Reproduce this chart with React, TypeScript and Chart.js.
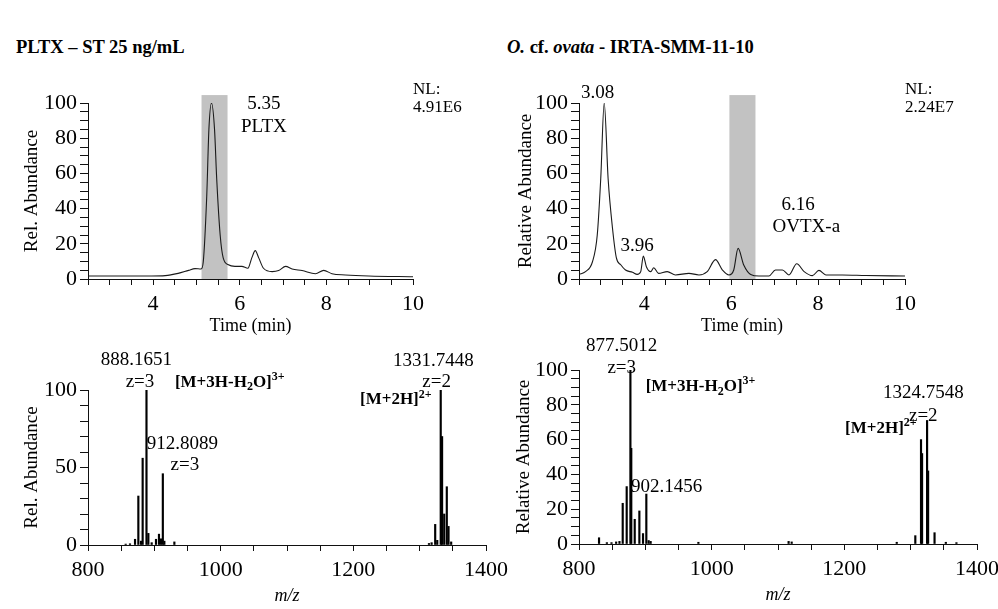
import React, { useEffect, useRef } from 'react';
import { Chart, registerables } from 'chart.js';
Chart.register(...registerables);

const SERIF = '"Liberation Serif", "Times New Roman", serif';

// ---- Top-left chromatogram: PLTX standard 25 ng/mL ----
const pltxTime = [2.5, 3.2, 3.97, 4.28, 4.58, 4.82, 4.97, 5.11, 5.16, 5.24, 5.29, 5.35, 5.42, 5.47, 5.55, 5.62, 5.74, 5.89, 6.05, 6.19, 6.28, 6.36, 6.44, 6.55, 6.75, 6.9, 7.06, 7.21, 7.44, 7.75, 7.94, 8.13, 8.44, 8.98, 10];
const pltxAbund = [1.7, 1.7, 1.7, 1.9, 3.2, 4.9, 5.9, 5.7, 9.8, 47, 85, 100, 85, 57, 25, 12, 8.1, 7.2, 7.2, 6.1, 12, 16.1, 12, 6.1, 4.2, 4.8, 7.2, 5.7, 4.8, 3.0, 4.9, 3.0, 2.3, 1.7, 1.3];
const pltxWindow = [5.12, 5.72];

// ---- Top-right chromatogram: O. cf. ovata IRTA-SMM-11-10 ----
const ovtxTime = [2.5, 2.65, 2.81, 2.92, 3.0, 3.08, 3.17, 3.27, 3.36, 3.46, 3.57, 3.73, 3.84, 3.92, 3.98, 4.05, 4.15, 4.22, 4.33, 4.53, 4.72, 5.03, 5.26, 5.45, 5.64, 5.8, 5.95, 6.06, 6.16, 6.29, 6.45, 6.64, 6.87, 7.02, 7.18, 7.33, 7.51, 7.68, 7.87, 8.02, 8.18, 8.56, 9.1, 10];
const ovtxAbund = [2.6, 4.2, 9.8, 25, 57, 100, 57, 29, 12, 8.1, 5.1, 3.8, 2.6, 4.2, 13, 7, 4.2, 6.4, 3.2, 4.2, 2.3, 3.2, 2.3, 4.2, 11, 5.1, 2.3, 5.1, 17.4, 8, 2.6, 1.7, 1.7, 5.1, 5.1, 2.3, 8.7, 4.2, 1.9, 4.9, 2.3, 2.3, 2.0, 1.7];
const ovtxWindow = [5.96, 6.56];
const windowTop = 104.5;

// ---- Bottom-left spectrum: PLTX ----
const pltxMz = [856.8, 863.3, 870.9, 875.9, 879.9, 882.4, 888.17, 891.0, 896.0, 902.5, 907.0, 910.0, 912.81, 915.1, 930.2, 1314, 1318, 1323.4, 1326.5, 1331.74, 1333.8, 1337, 1340.9, 1343.5, 1347.5];
const pltxInt = [0.6, 0.8, 3.7, 31.6, 2.5, 56, 100, 7.5, 1.5, 3.7, 7, 4, 46, 2.5, 2, 1, 1.5, 13.3, 3, 100, 70, 20, 37.6, 12, 2];

// ---- Bottom-right spectrum: OVTX-a ----
const ovtxMz = [830.2, 842, 849, 856, 861, 865.9, 871.9, 877.5, 878.8, 884, 891, 896.5, 901.5, 905, 908, 980, 1116, 1120.6, 1279, 1307, 1315.6, 1317.2, 1324.75, 1326.3, 1336, 1353, 1369];
const ovtxInt = [3.6, 0.8, 0.8, 1.2, 1.5, 23.4, 33, 100, 55, 14.2, 19, 6, 28.7, 2, 1.5, 1, 1.5, 1.2, 1, 4.8, 60, 52, 71, 42, 6.5, 1, 0.8];

// ---- Tick labels ----
const timeTickLabels = [4, 6, 8, 10];
const mzTickLabels = [800, 1000, 1200, 1400];
const abund20Labels = [0, 20, 40, 60, 80, 100];
const abund50Labels = [0, 50, 100];

type Seg = { t: string; s?: 'sub' | 'sup' };
type Note = { x: number; y: number; segs: Seg[]; align: 'left' | 'center' | 'right'; bold?: boolean; size?: number };
const T = (s: string): Seg[] => [{ t: s }];
const ionH2O: Seg[] = [{ t: '[M+3H-H' }, { t: '2', s: 'sub' }, { t: 'O]' }, { t: '3+', s: 'sup' }];
const ion2H: Seg[] = [{ t: '[M+2H]' }, { t: '2+', s: 'sup' }];

const pltxChromNotes: Note[] = [
  { x: 6.56, y: 99.4, segs: T('5.35'), align: 'center' },
  { x: 6.56, y: 86.4, segs: T('PLTX'), align: 'center' },
  { x: 10, y: 107.4, segs: T('NL:'), align: 'left', size: 17 },
  { x: 10, y: 97.2, segs: T('4.91E6'), align: 'left', size: 17 },
];
const ovtxChromNotes: Note[] = [
  { x: 2.93, y: 105.7, segs: T('3.08'), align: 'center' },
  { x: 3.84, y: 18.9, segs: T('3.96'), align: 'center' },
  { x: 7.54, y: 42, segs: T('6.16'), align: 'center' },
  { x: 7.73, y: 29.7, segs: T('OVTX-a'), align: 'center' },
  { x: 10, y: 107.4, segs: T('NL:'), align: 'left', size: 17 },
  { x: 10, y: 97.2, segs: T('2.24E7'), align: 'left', size: 17 },
];
const pltxSpecNotes: Note[] = [
  { x: 873, y: 119.5, segs: T('888.1651'), align: 'center' },
  { x: 878.4, y: 105, segs: T('z=3'), align: 'center' },
  { x: 931, y: 105, segs: ionH2O, align: 'left', bold: true, size: 17 },
  { x: 942.3, y: 65, segs: T('912.8089'), align: 'center' },
  { x: 946, y: 51.6, segs: T('z=3'), align: 'center' },
  { x: 1320.6, y: 119, segs: T('1331.7448'), align: 'center' },
  { x: 1325.6, y: 105, segs: T('z=2'), align: 'center' },
  { x: 1318, y: 93.5, segs: ion2H, align: 'right', bold: true, size: 17 },
];
const ovtxSpecNotes: Note[] = [
  { x: 864.4, y: 113.8, segs: T('877.5012'), align: 'center' },
  { x: 864.4, y: 101.3, segs: T('z=3'), align: 'center' },
  { x: 900.5, y: 90.4, segs: ionH2O, align: 'left', bold: true, size: 17 },
  { x: 932.2, y: 33, segs: T('902.1456'), align: 'center' },
  { x: 1319, y: 86.6, segs: T('1324.7548'), align: 'center' },
  { x: 1319, y: 73.6, segs: T('z=2'), align: 'center' },
  { x: 1309, y: 66.5, segs: ion2H, align: 'right', bold: true, size: 17 },
];

function makePlugin(notes: Note[], band?: number[]) {
  return {
    id: 'notes',
    beforeDatasetsDraw(chart: any) {
      if (!band) return;
      const xs = chart.scales.x, ys = chart.scales.y, ctx = chart.ctx;
      const x0 = xs.getPixelForValue(band[0]);
      const x1 = xs.getPixelForValue(band[1]);
      const y0 = ys.getPixelForValue(windowTop);
      const y1 = ys.getPixelForValue(0);
      ctx.save();
      ctx.fillStyle = '#c2c2c2';
      ctx.fillRect(x0, y0, x1 - x0, y1 - y0);
      ctx.restore();
    },
    afterDraw(chart: any) {
      const xs = chart.scales.x, ys = chart.scales.y, ctx = chart.ctx;
      ctx.save();
      ctx.fillStyle = '#000';
      ctx.textBaseline = 'middle';
      ctx.textAlign = 'left';
      for (const n of notes) {
        const size = n.size ?? 19;
        const w = n.bold ? 'bold ' : '';
        const mainFont = `${w}${size}px ${SERIF}`;
        const smallFont = `${w}${Math.round(size * 0.68)}px ${SERIF}`;
        let total = 0;
        const widths = n.segs.map((sg) => {
          ctx.font = sg.s ? smallFont : mainFont;
          const mw = ctx.measureText(sg.t).width;
          total += mw;
          return mw;
        });
        const px = xs.getPixelForValue(n.x);
        const py = ys.getPixelForValue(n.y);
        let cx = n.align === 'left' ? px : n.align === 'right' ? px - total : px - total / 2;
        n.segs.forEach((sg, i) => {
          ctx.font = sg.s ? smallFont : mainFont;
          const dy = sg.s === 'sub' ? size * 0.3 : sg.s === 'sup' ? -size * 0.33 : 0;
          ctx.fillText(sg.t, cx, py + dy);
          cx += widths[i];
        });
      }
      ctx.restore();
    },
  };
}

function xAxis(min: number, max: number, step: number, labels: number[], title: string, italic: boolean, height: number, titlePadBottom: number) {
  return {
    type: 'linear',
    min, max, offset: false,
    afterFit: (s: any) => { s.height = height; },
    border: { display: true, color: '#111', width: 1 },
    grid: { display: true, drawOnChartArea: false, drawTicks: true, tickLength: 6, tickWidth: 1, tickColor: '#111', offset: false },
    ticks: {
      stepSize: step, autoSkip: false, maxRotation: 0, minRotation: 0, padding: 6, color: '#000',
      font: { family: SERIF, size: 22 },
      callback: (v: number) => (labels.includes(Math.round(v * 1000) / 1000) ? String(v) : ''),
    },
    title: { display: true, text: title, color: '#000', font: { family: SERIF, size: 18, style: italic ? 'italic' : 'normal' }, padding: { top: 0, bottom: titlePadBottom } },
  };
}

function yAxis(step: number, labels: number[], title: string, width: number) {
  return {
    type: 'linear',
    min: 0, max: 100,
    afterFit: (s: any) => { s.width = width; },
    border: { display: true, color: '#111', width: 1 },
    grid: { display: true, drawOnChartArea: false, drawTicks: true, tickLength: 8, tickWidth: 1, tickColor: '#111' },
    ticks: {
      stepSize: step, autoSkip: false, padding: 3, color: '#000',
      font: { family: SERIF, size: 22 },
      callback: (v: number) => (labels.includes(v) ? String(v) : ''),
    },
    title: { display: true, text: title, color: '#000', font: { family: SERIF, size: 19 }, padding: { top: 3, bottom: 0 } },
  };
}

function chromConfig(time: number[], abund: number[], band: number[], notes: Note[], yTitle: string, pad: any, yW: number) {
  return {
    type: 'line',
    data: {
      datasets: [{
        data: time.map((t, i) => ({ x: t, y: abund[i] })),
        borderColor: '#1a1a1a', borderWidth: 1.1, pointRadius: 0, fill: false,
        cubicInterpolationMode: 'monotone',
      }],
    },
    options: {
      animation: false, responsive: false, devicePixelRatio: 1,
      layout: { padding: pad },
      plugins: { legend: { display: false }, tooltip: { enabled: false } },
      scales: {
        x: xAxis(2.5, 10, 0.5, timeTickLabels, 'Time (min)', false, 60, 1.5),
        y: yAxis(5, abund20Labels, yTitle, yW),
      },
    },
    plugins: [makePlugin(notes, band)],
  };
}

function specConfig(mz: number[], inten: number[], notes: Note[], yTitle: string, yStep: number, yLabels: number[], pad: any, yW: number) {
  return {
    type: 'bar',
    data: {
      datasets: [{
        data: mz.map((m, i) => ({ x: m, y: inten[i] })),
        backgroundColor: '#000', borderWidth: 0, barThickness: 1.5,
      }],
    },
    options: {
      animation: false, responsive: false, devicePixelRatio: 1,
      layout: { padding: pad },
      plugins: { legend: { display: false }, tooltip: { enabled: false } },
      scales: {
        x: xAxis(800, 1400, 50, mzTickLabels, 'm/z', true, 62, 0),
        y: yAxis(yStep, yLabels, yTitle, yW),
      },
    },
    plugins: [makePlugin(notes)],
  };
}

function Panel({ left, top, width, height, make }: { left: number; top: number; width: number; height: number; make: () => any }) {
  const ref = useRef<HTMLCanvasElement>(null);
  useEffect(() => {
    const chart = new Chart(ref.current as HTMLCanvasElement, make());
    return () => chart.destroy();
  }, []);
  return <canvas ref={ref} width={width} height={height} style={{ position: 'absolute', left, top, width, height }} />;
}

export default function App() {
  return (
    <div style={{ position: 'absolute', left: 0, top: 0, width: 998, height: 609, overflow: 'hidden', background: '#fff', fontFamily: SERIF }}>
      <div style={{ position: 'absolute', left: 16, top: 36, fontSize: 18.5, lineHeight: '22px', fontWeight: 'bold', whiteSpace: 'nowrap', color: '#000' }}>
        PLTX – ST 25 ng/mL
      </div>
      <div style={{ position: 'absolute', left: 507, top: 36, fontSize: 18.5, lineHeight: '22px', fontWeight: 'bold', whiteSpace: 'nowrap', color: '#000' }}>
        <i>O.</i> cf. <i>ovata</i> - IRTA-SMM-11-10
      </div>
      <Panel left={0} top={60} width={499} height={290}
        make={() => chromConfig(pltxTime, pltxAbund, pltxWindow, pltxChromNotes, 'Rel. Abundance', { left: 18, right: 86, top: 43, bottom: 11 }, 70)} />
      <Panel left={499} top={60} width={499} height={290}
        make={() => chromConfig(ovtxTime, ovtxAbund, ovtxWindow, ovtxChromNotes, 'Relative Abundance', { left: 13, right: 93, top: 43, bottom: 11 }, 67)} />
      <Panel left={0} top={330} width={530} height={279}
        make={() => specConfig(pltxMz, pltxInt, pltxSpecNotes, 'Rel. Abundance', 10, abund50Labels, { left: 18, right: 44, top: 60, bottom: 2 }, 70)} />
      <Panel left={490} top={330} width={520} height={279}
        make={() => specConfig(ovtxMz, ovtxInt, ovtxSpecNotes, 'Relative Abundance', 5, abund20Labels, { left: 20, right: 33, top: 40, bottom: 3 }, 69)} />
    </div>
  );
}
